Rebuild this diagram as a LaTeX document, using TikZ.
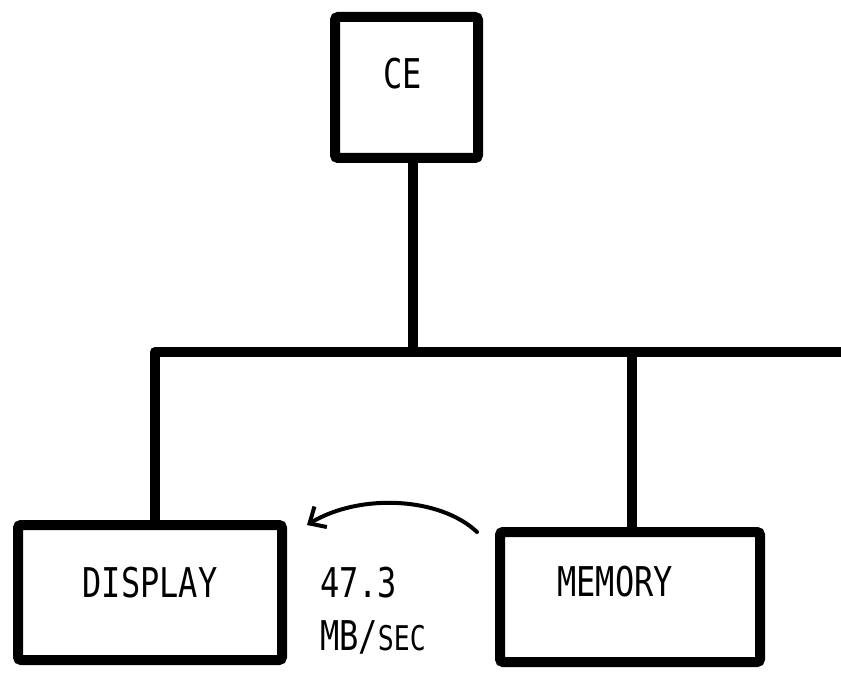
\documentclass[tikz,border=0pt]{standalone}
\usepackage{fontspec}
\newfontfamily\hand[FakeStretch=0.78]{DejaVu Sans Mono}
\usetikzlibrary{arrows.meta}
\begin{document}
\begin{tikzpicture}[x=1pt,y=-1pt,
  box/.style={draw=black,line width=10pt,rounded corners=3pt,fill=none,inner sep=0pt},
  bus/.style={draw=black,line width=10pt,line cap=butt},
  flow/.style={draw=black,line width=4pt,line cap=round,-{Straight Barb[length=13pt,width=24pt,line width=4pt]}},
  txt/.style={font=\hand\fontsize{41}{41}\selectfont,inner sep=0pt}]
\useasboundingbox (0,0) rectangle (841,676);
\node[box,minimum width=143pt,minimum height=141pt,
      label={[txt,xshift=-4pt,yshift=14pt]center:CE}] (CE) at (406.5,87.5) {};
\node[box,minimum width=264pt,minimum height=135pt,
      label={[txt,yshift=10pt]center:DISPLAY}] (DISP) at (150,592.5) {};
\node[box,minimum width=260pt,minimum height=130pt,
      label={[txt,xshift=-15pt,yshift=15pt]center:MEMORY}] (MEM) at (630,597) {};
\coordinate (busL) at (155,352);
\coordinate (busR) at (845,352);
\coordinate (jCE) at (413,352);
\coordinate (jMEM) at (632,352);
\draw[bus,line join=round] (DISP.north -| busL) -- (busL) -- (busR);
\draw[bus] (CE.south -| jCE) -- ([yshift=-3pt]jCE);
\draw[bus] ([yshift=-3pt]jMEM) -- (MEM.north -| jMEM);
\coordinate (aS) at (477,532);
\coordinate (aE) at (307,525);
\draw[flow] (aS) .. controls (440,497) and (360,493) .. (aE);
\node[txt,anchor=west] (rate) at (320,583) {47.3};
\node[txt,anchor=west] (unit) at (320,637) {MB/{\fontsize{34}{34}\selectfont SEC}};
\end{tikzpicture}
\end{document}
